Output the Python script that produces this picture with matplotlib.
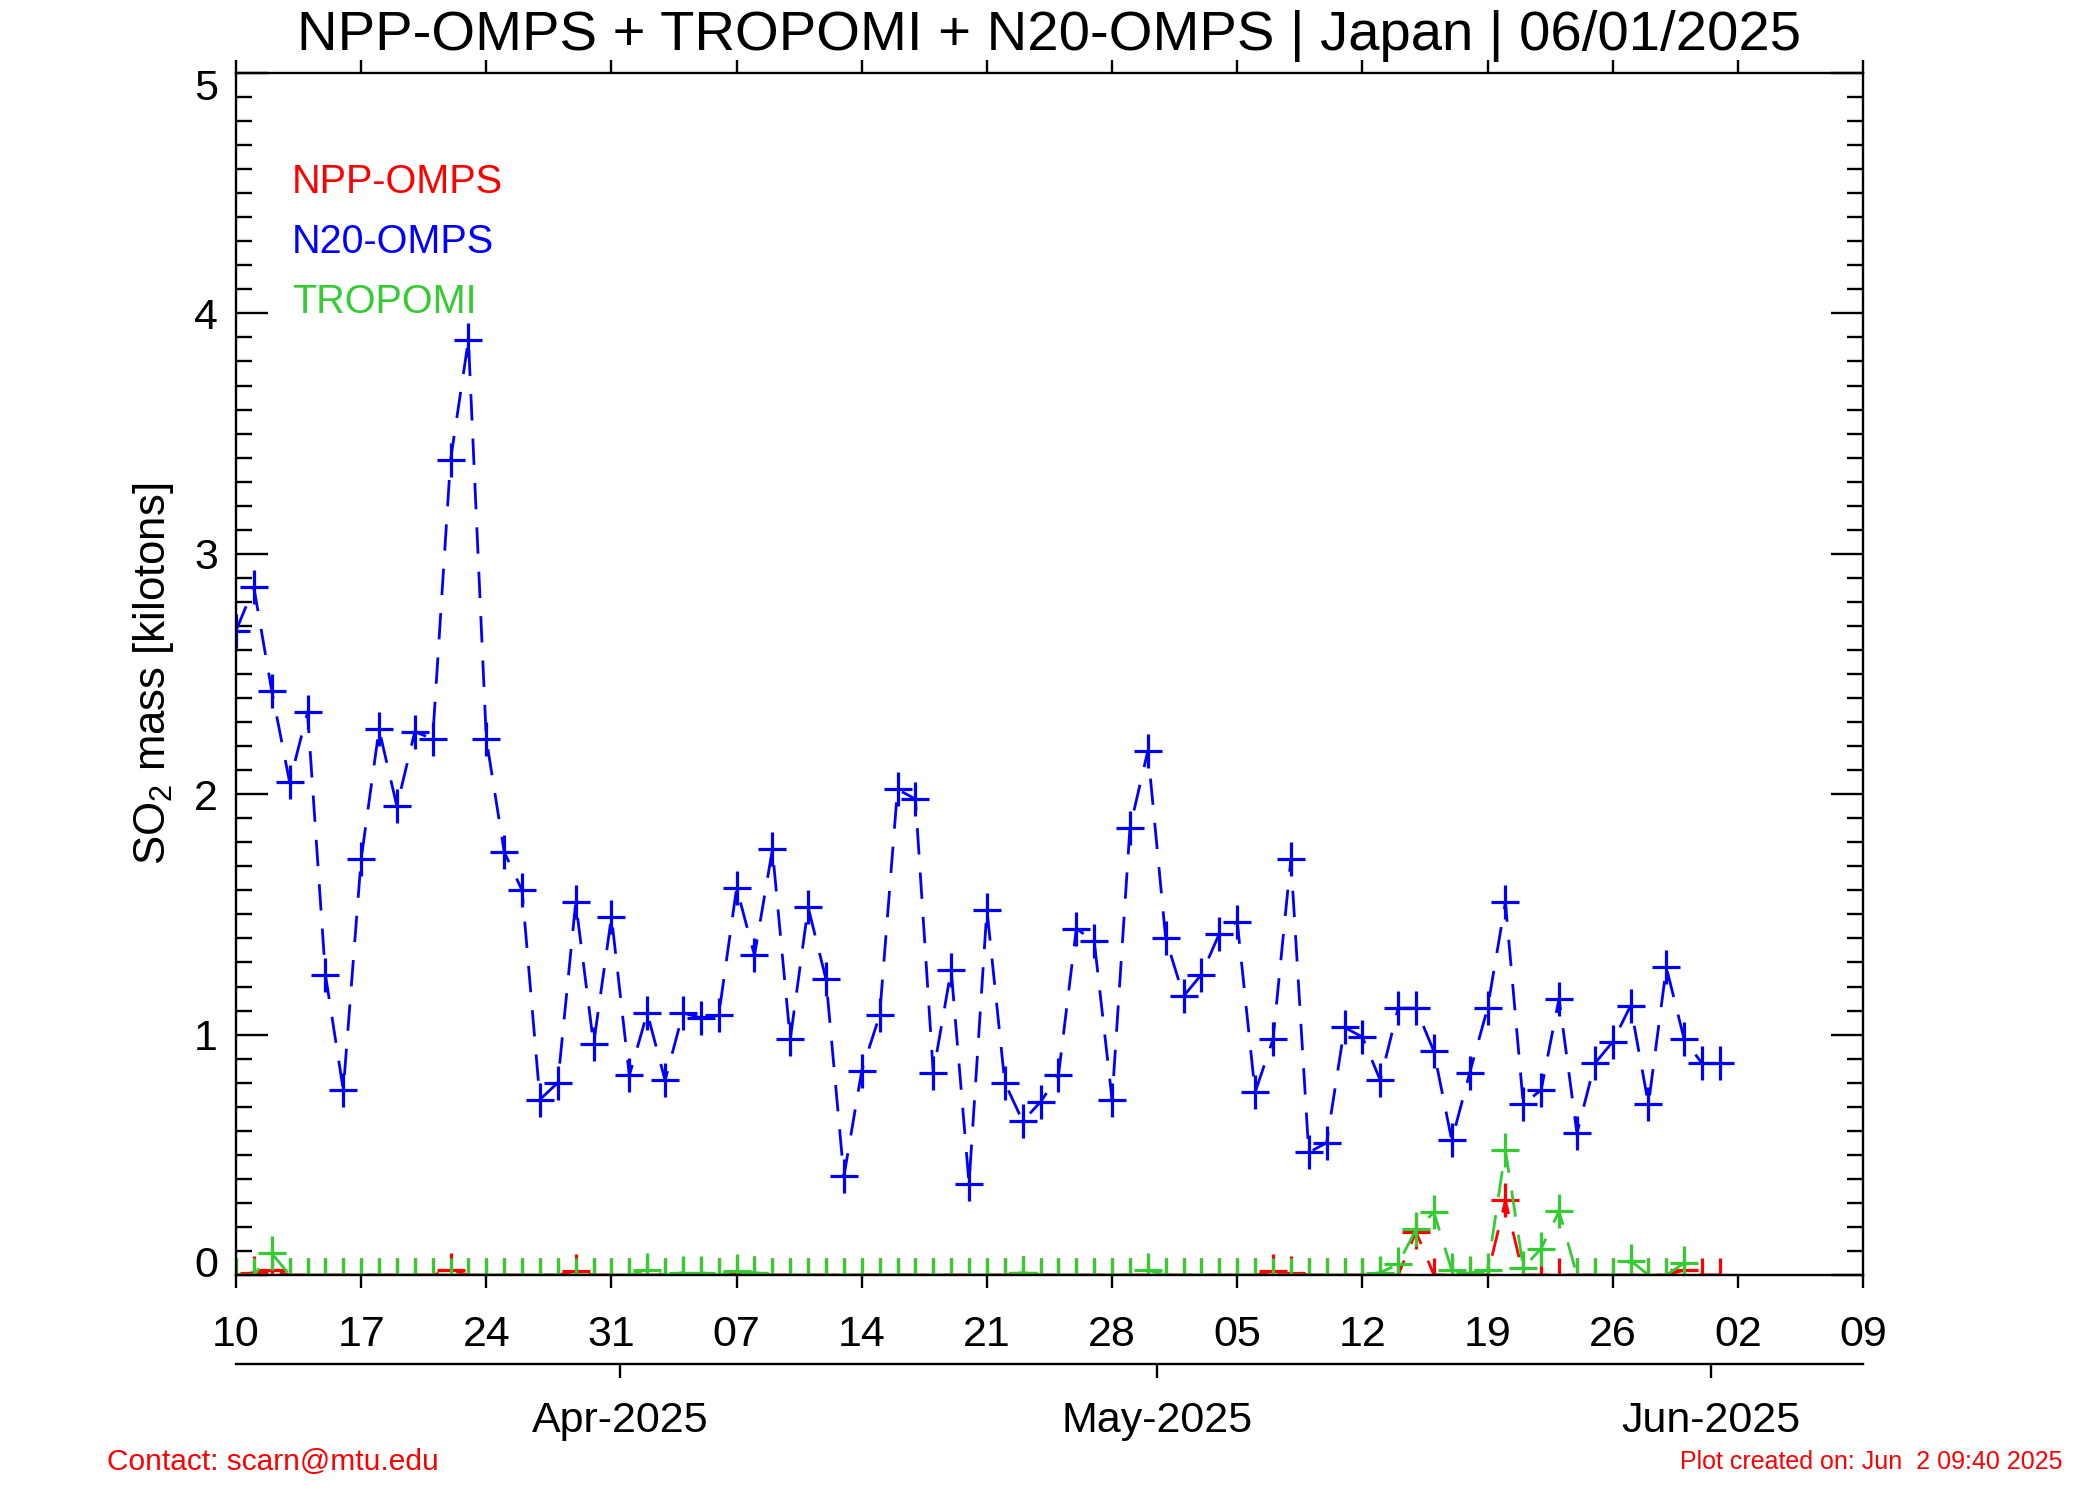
import numpy as np
import pandas as pd
import matplotlib
matplotlib.use("Agg")
import matplotlib.pyplot as plt
import matplotlib.dates as mdates
import matplotlib.transforms as mtransforms
from matplotlib.path import Path
from matplotlib.ticker import MultipleLocator

plt.rcParams['font.family'] = ['Liberation Sans', 'DejaVu Sans']
plt.rcParams['mathtext.fontset'] = 'custom'
plt.rcParams['mathtext.rm'] = 'Liberation Sans'
plt.rcParams['mathtext.it'] = 'Liberation Sans:italic'

# daily SO2 mass [kt], starting 2025-03-10
n20_dates = pd.date_range('2025-03-10', '2025-06-01', freq='D')
n20_omps = [2.68, 2.86, 2.43, 2.05, 2.34, 1.25, 0.77, 1.73, 2.27, 1.95, 2.26,
            2.23, 3.39, 3.89, 2.23, 1.76, 1.60, 0.73, 0.80, 1.55, 0.96, 1.49,
            # April
            0.83, 1.09, 0.81, 1.09, 1.07, 1.08, 1.61, 1.33, 1.77, 0.98,
            1.53, 1.23, 0.41, 0.85, 1.08, 2.02, 1.98, 0.84, 1.27, 0.38,
            1.52, 0.80, 0.64, 0.72, 0.83, 1.44, 1.39, 0.73, 1.86, 2.18,
            # May
            1.40, 1.16, 1.25, 1.42, 1.47, 0.76, 0.98, 1.73, 0.51, 0.55,
            1.03, 0.99, 0.81, 1.11, 1.11, 0.93, 0.56, 0.84, 1.11, 1.55,
            0.71, 0.77, 1.15, 0.59, 0.88, 0.97, 1.12, 0.71, 1.28, 0.98, 0.88,
            # June
            0.88]

npp_dates = pd.date_range('2025-03-10', '2025-06-01', freq='D')
npp_omps = [0, 0.01, 0.02, 0, 0, 0, 0, 0, 0, 0, 0,
            0, 0.02, 0, 0, 0, 0, 0, 0, 0.015, 0, 0,
            0, 0, 0, 0, 0, 0, 0.01, 0.01, 0, 0,
            0, 0, 0, 0, 0, 0, 0, 0, 0, 0,
            0, 0, 0.01, 0, 0, 0, 0, 0, 0, 0,
            0, 0, 0, 0, 0, 0, 0.015, 0.01, 0, 0,
            0, 0, 0, 0, 0.18, 0, 0, 0, 0, 0.31,
            0, 0, 0, 0, 0, 0, 0, 0, 0, 0.02, 0,
            0]

tropomi_dates = pd.date_range('2025-03-10', '2025-05-30', freq='D')
tropomi = [0, 0, 0.09, 0, 0, 0, 0, 0, 0, 0, 0,
           0, 0, 0, 0, 0, 0, 0, 0, 0, 0, 0,
           0, 0.02, 0, 0.01, 0.01, 0, 0.015, 0.01, 0, 0,
           0, 0, 0, 0, 0, 0, 0, 0, 0, 0,
           0, 0, 0.01, 0, 0, 0, 0, 0, 0, 0.02,
           0, 0, 0, 0, 0, 0, 0, 0, 0, 0,
           0, 0, 0.01, 0.045, 0.19, 0.26, 0.02, 0.01, 0.02, 0.52,
           0.03, 0.11, 0.265, 0, 0, 0, 0.06, 0, 0, 0.05]

week_ticks = pd.date_range('2025-03-10', '2025-06-09', freq='7D')
month_ticks = pd.to_datetime(['2025-04-01', '2025-05-01', '2025-06-01']) - pd.Timedelta(hours=12)
month_labels = ['Apr-2025', 'May-2025', 'Jun-2025']

plus = Path([(-0.42, 0), (0.42, 0), (0, -0.5), (0, 0.5)],
            [Path.MOVETO, Path.LINETO, Path.MOVETO, Path.LINETO])

fig = plt.figure(figsize=(21, 15), dpi=100)
ax = fig.add_axes([236 / 2100, 1 - 1275 / 1500, 1627 / 2100, 1202 / 1500])

style = dict(marker=plus, markersize=24, markeredgewidth=2.3, linewidth=2.0,
             dashes=(9.5, 6.5))
ax.plot(n20_dates, n20_omps, color='#0000ff', **style)
ax.plot(npp_dates, npp_omps, color='#ff0000', **style)
ax.plot(tropomi_dates, tropomi, color='#33cc33', **style)

ax.set_xlim(pd.Timestamp('2025-03-10'), pd.Timestamp('2025-06-09'))
ax.set_ylim(0, 5)

ax.set_xticks(week_ticks)
ax.xaxis.set_major_formatter(mdates.DateFormatter('%d'))
ax.tick_params(axis='x', which='major', direction='out', length=9.5, width=1.7,
               top=True, labeltop=False, labelsize=31, pad=19)
ax.set_yticks(range(6))
ax.yaxis.set_minor_locator(MultipleLocator(0.1))
ax.tick_params(axis='y', which='major', direction='in', length=23, width=1.7,
               right=True, labelsize=31, pad=13)
ax.tick_params(axis='y', which='minor', direction='in', length=11.5, width=1.7,
               right=True)
for s in ax.spines.values():
    s.set_linewidth(1.7)

sec = ax.secondary_xaxis(-0.074)
sec.set_xticks(mdates.date2num(month_ticks), labels=month_labels)
sec.tick_params(direction='out', length=10, width=1.7, labelsize=31, pad=17)
sec.spines['bottom'].set_linewidth(1.7)

ax.set_ylabel('SO$_2$ mass [kilotons]', fontsize=31.5)
ax.yaxis.set_label_coords(-0.037, 0.5)

x0 = pd.Timestamp('2025-03-13') + pd.Timedelta(hours=3)
ax.text(x0, 4.5, 'NPP-OMPS', color='#ff0000', fontsize=28.5)
ax.text(x0, 4.25, 'N20-OMPS', color='#0000ff', fontsize=28.5)
ax.text(x0, 4.0, 'TROPOMI', color='#33cc33', fontsize=28.5)

fig.text(0.4997, 0.967, 'NPP-OMPS + TROPOMI + N20-OMPS | Japan | 06/01/2025',
         ha='center', va='baseline', fontsize=40.5)
fig.text(107 / 2100, 0.02, 'Contact: scarn@mtu.edu', color='#ff0000',
         fontsize=21.5, va='baseline')
fig.text(0.982, 0.0207, 'Plot created on: Jun  2 09:40 2025', color='#ff0000',
         fontsize=18, ha='right', va='baseline')

# the end labels of the y axis sit just inside the range
fig.canvas.draw()
shifts = {'0': 9.5, '5': -8.5}
for lab in ax.get_yticklabels():
    dy = shifts.get(lab.get_text(), 0)
    off = mtransforms.ScaledTranslation(0, dy / 72, fig.dpi_scale_trans)
    lab.set_transform(lab.get_transform() + off)

fig.savefig('out.png', dpi=100)
plt.close(fig)
